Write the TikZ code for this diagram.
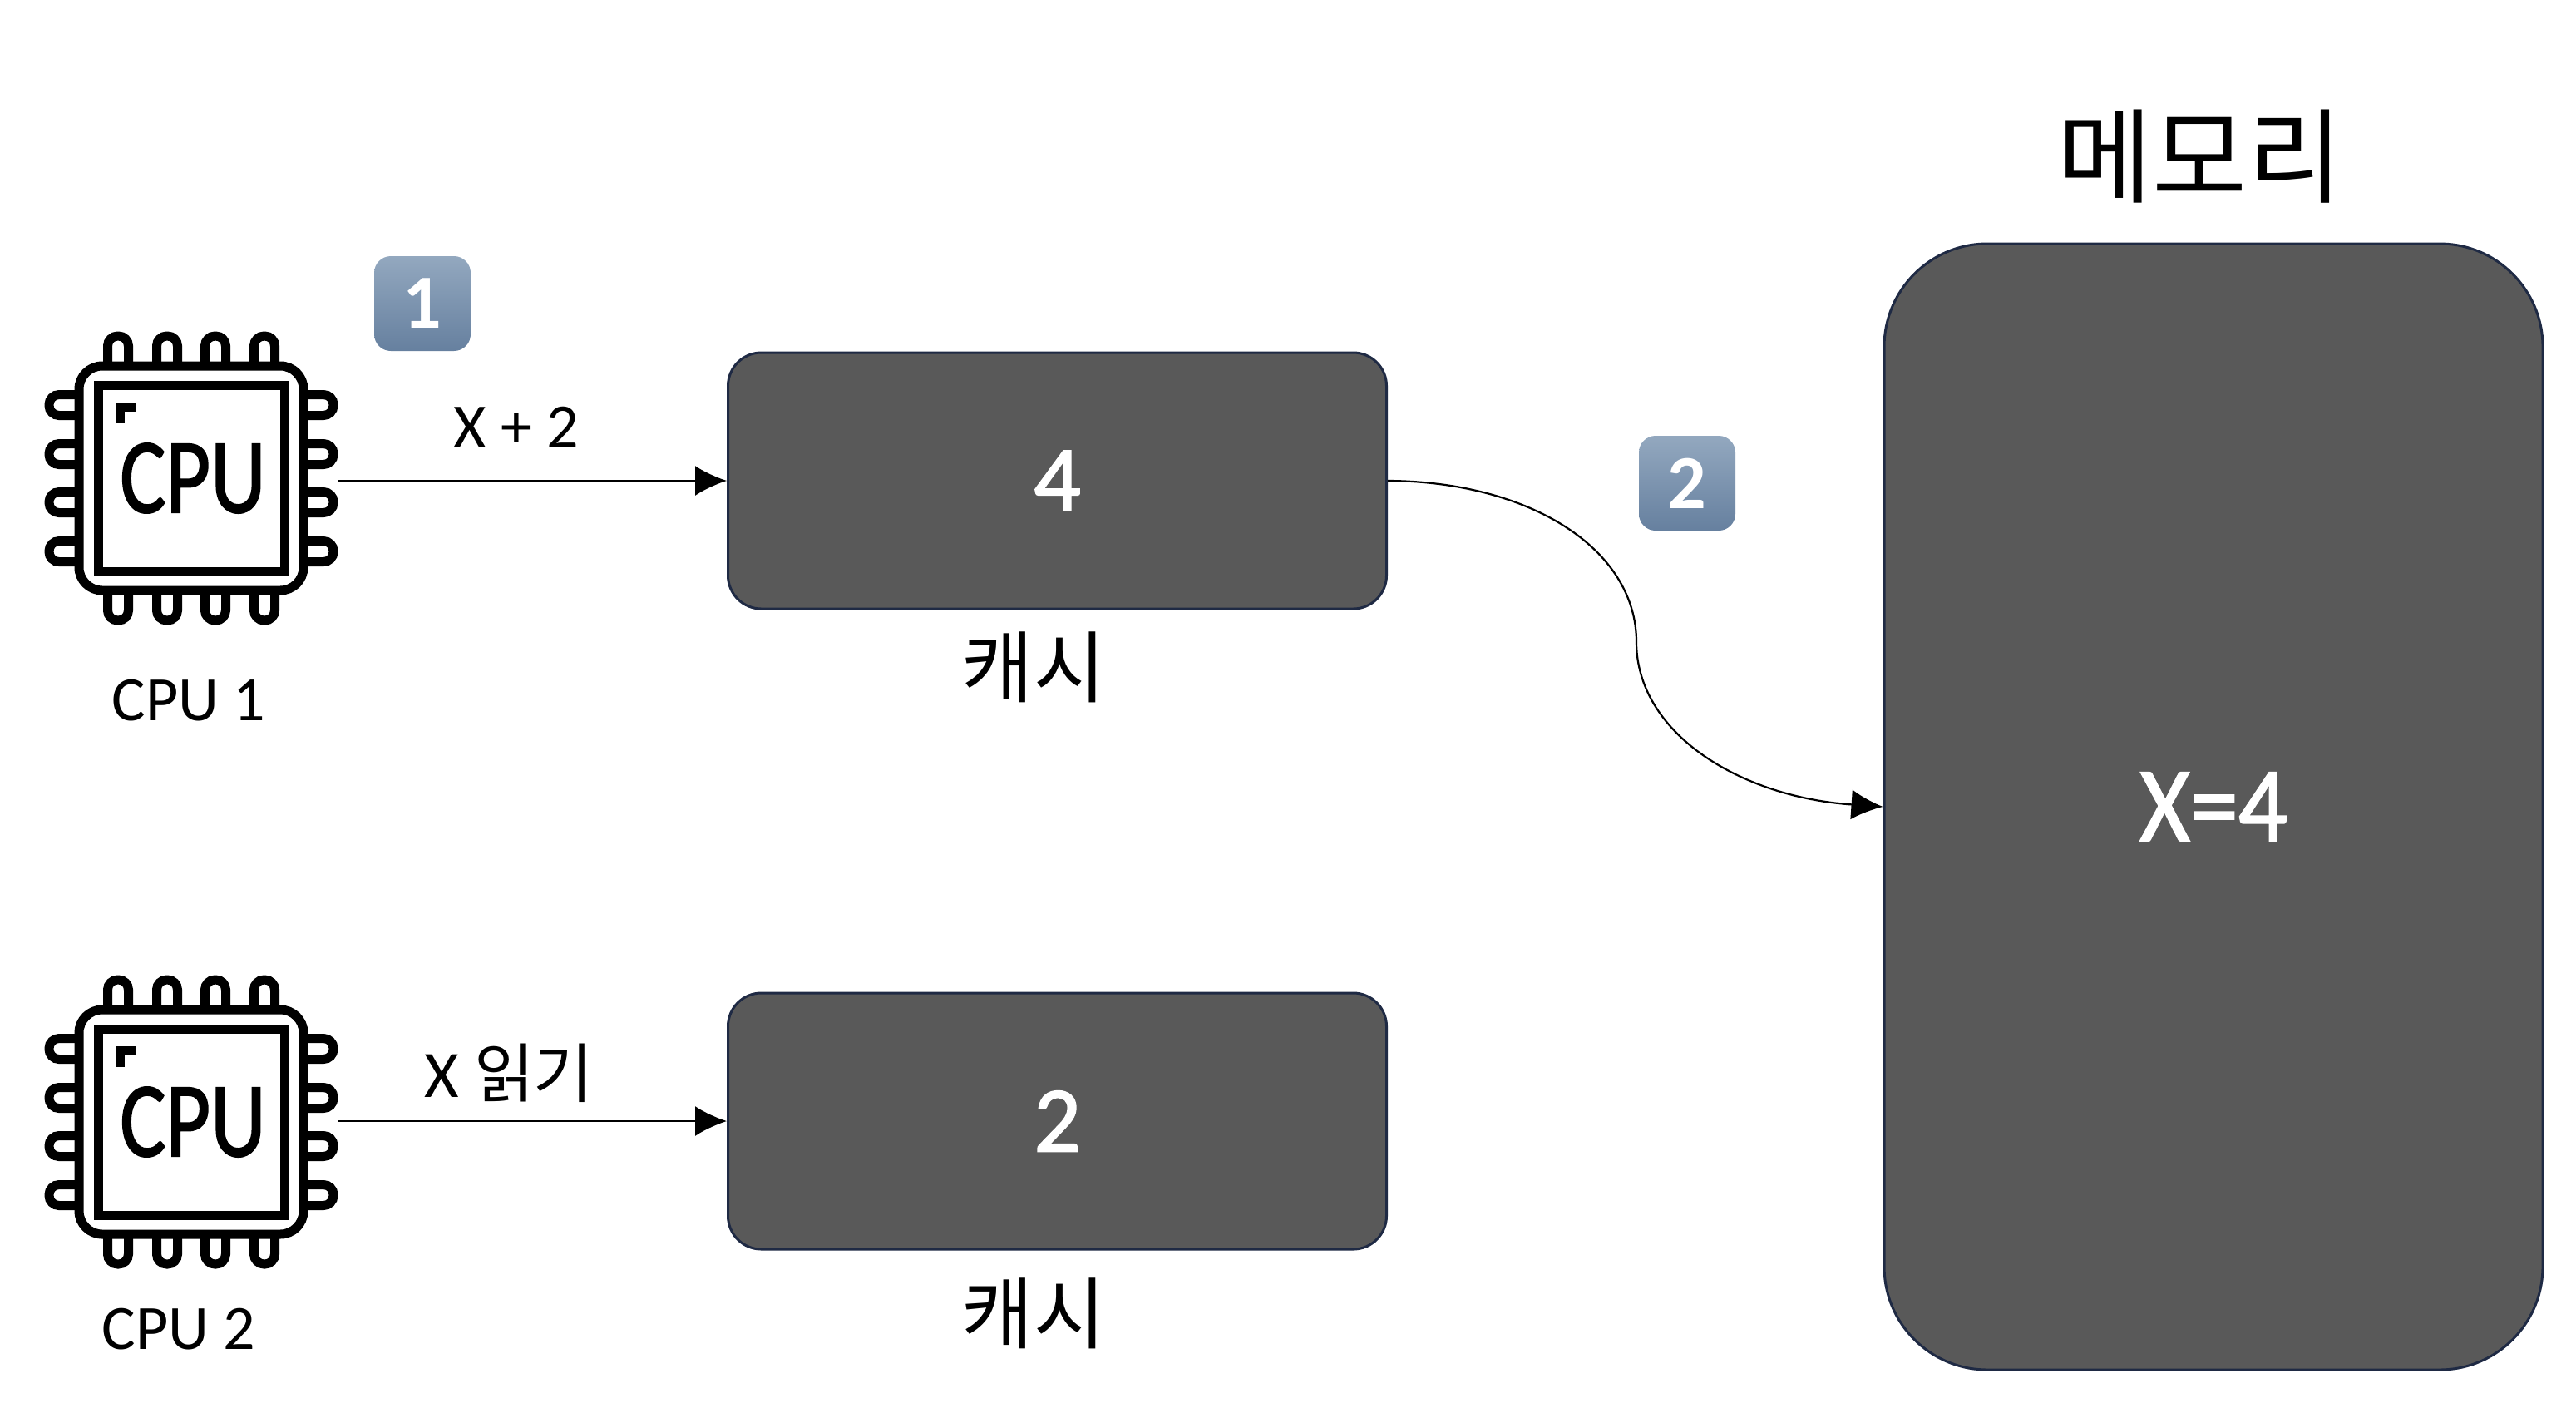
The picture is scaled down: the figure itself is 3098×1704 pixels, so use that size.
\documentclass[tikz,border=0pt]{standalone}
\usepackage{fontspec}
\setmainfont{Carlito}
\newfontfamily\krfont{Noto Sans CJK KR}
\newfontfamily\fatfont[FakeBold=1.6]{Carlito}
\newfontfamily\semifont[FakeBold=0.8]{Carlito}
\usetikzlibrary{arrows.meta}
\definecolor{boxfill}{HTML}{595959}
\definecolor{boxline}{HTML}{1F2A44}
\definecolor{badgetop}{HTML}{93A8BF}
\definecolor{badgebot}{HTML}{66809F}
\tikzset{
  cachebox/.style={draw=boxline,line width=1.5pt,fill=boxfill,rounded corners=20pt,minimum width=396pt,minimum height=154pt,inner sep=0pt,text=white,font=\fatfont\fontsize{56}{60}\selectfont},
  membox/.style={draw=boxline,line width=1.5pt,fill=boxfill,rounded corners=62pt,minimum width=396pt,minimum height=677pt,inner sep=0pt,text=white,font=\fatfont\fontsize{64}{70}\selectfont},
  badge/.style={rounded corners=10pt,top color=badgetop,bottom color=badgebot,minimum width=58pt,minimum height=57pt,inner sep=0pt,text=white,font=\fontsize{46}{48}\selectfont\bfseries},
  lab/.style={inner sep=0pt,font=\fontsize{38}{42}\selectfont},
  krlab/.style={inner sep=0pt,font=\krfont\fontsize{47}{50}\selectfont},
  link/.style={draw=black,line width=1.1pt,-{Latex[length=19pt,width=18pt]}},
  chipnode/.style={minimum width=176.5pt,minimum height=176.5pt,inner sep=0pt},
  chipline/.style={draw=black,line width=5.5pt,fill=white,rounded corners=6pt}
}
\newcommand{\chipicon}[3]{%
  \node[chipnode] (#1) at (#2,#3) {};
  \begin{scope}[shift={(#2,#3)}]
    \foreach \p in {-88,-29,29,88}{
      \draw[chipline] (\p-12.5,-120) rectangle (\p+12.5,-171);
      \draw[chipline] (\p-12.5,120) rectangle (\p+12.5,171);
      \draw[chipline] (-120,\p-12.5) rectangle (-171,\p+12.5);
      \draw[chipline] (120,\p-12.5) rectangle (171,\p+12.5);
    }
    \draw[chipline,rounded corners=14pt] (-135,-135) rectangle (135,135);
    \draw[draw=black,line width=5.5pt,fill=white] (-112,-112) rectangle (112,112);
    \draw[black,line width=5.5pt] (-86,-66) -- (-86,-85.5) -- (-67,-85.5);
    \node[inner sep=0pt,font=\fatfont\fontsize{64}{70}\selectfont] at (2,0) {\scalebox{.81}[1]{CPU}};
  \end{scope}%
}
\begin{document}
\begin{tikzpicture}[x=0.5pt,y=-0.5pt]
\useasboundingbox (0,0) rectangle (3098,1704);
\chipicon{cpuone}{230}{575}
\chipicon{cputwo}{230}{1349}
\node[cachebox] (cacheone) at (1271.5,578) {4};
\node[cachebox] (cachetwo) at (1271.5,1348) {2};
\node[membox] (memory) at (2662,970) {\scalebox{.91}[1]{X=4}};
\node[badge] (badgeone) at (508,365) {1};
\node[badge] (badgetwo) at (2029,581) {2};
\node[lab] (addlabel) at (621,514) {X + 2};
\node[lab] (cpuonelabel) at (227,842) {CPU 1};
\node[lab] (cputwolabel) at (215,1598) {CPU 2};
\node[lab] (readlabel) at (612,1290) {\fontsize{40}{44}\selectfont X {\krfont\fontsize{39}{42}\selectfont 읽기}};
\node[krlab] (cacheonelabel) at (1243,802) {캐시};
\node[krlab] (cachetwolabel) at (1243,1579) {캐시};
\node[inner sep=0pt,font=\krfont\fontsize{62}{66}\selectfont] (memlabel) at (2646,188) {메모리};
\draw[link] (cpuone.east |- cacheone.west) -- (cacheone.west);
\draw[link] (cputwo.east |- cachetwo.west) -- (cachetwo.west);
\coordinate (bend) at (1968,772);
\draw[link] (cacheone.east) .. controls (1840,579) and (1968,660) .. (bend) .. controls (1968,880) and (2090,958) .. (memory.west);
\end{tikzpicture}
\end{document}
